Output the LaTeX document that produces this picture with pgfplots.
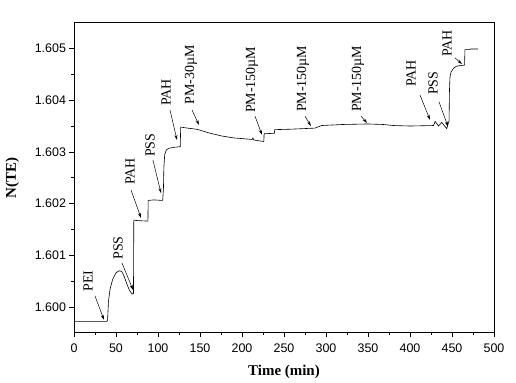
\documentclass[border=0pt]{standalone}
\usepackage{fontspec}
\setmainfont{Liberation Serif}
\newfontfamily\arial{Liberation Sans}
\usepackage{pgfplots}
\pgfplotsset{compat=1.18}
\usetikzlibrary{arrows.meta}
\begin{document}
\begin{tikzpicture}
\useasboundingbox (-74bp,-50.3bp) rectangle (442bp,332.7bp);
\begin{axis}[
  at={(0,0)}, anchor=south west,
  scale only axis, width=420bp, height=310bp,
  xmin=0, xmax=500, ymin=1.5995, ymax=1.6055,
  axis line style={line width=0.9pt},
  xtick={0,50,100,150,200,250,300,350,400,450,500}, minor x tick num=1,
  ytick={1.600,1.601,1.602,1.603,1.604,1.605}, minor y tick num=1,
  tick align=outside, tick pos=left,
  major tick length=4.5bp, minor tick length=2.5bp,
  tick style={black, line width=0.6pt},
  scaled y ticks=false,
  yticklabel style={/pgf/number format/.cd, fixed, precision=3, fixed zerofill},
  xticklabel style={yshift=-3bp},
  ticklabel style={font=\arial\fontsize{12.5}{14}\selectfont},
  /pgf/number format/assume math mode=true,
  xlabel={\bfseries Time (min)}, ylabel={\bfseries N(TE)},
  label style={font=\fontsize{15}{18}\selectfont},
  xlabel style={yshift=-6bp},
  ylabel style={yshift=9bp},
]
\addplot[black, line width=0.6pt] coordinates {
(0,1.59972) (39.5,1.59972) (40,1.59975) (41,1.60010) (43,1.60035) (46,1.60053)
(50,1.60066) (54,1.60070) (57,1.60068) (60,1.60058) (63,1.60044) (66,1.60032)
(68.7,1.60026) (70,1.60025) (70.8,1.60026) (71.2,1.60168) (75,1.60167) (88,1.60166)
(88.3,1.60206) (95,1.60207) (105.6,1.60206) (106.5,1.60230) (107,1.60270) (108,1.60295)
(110,1.60304) (113,1.60307) (120,1.60309) (126.5,1.60310) (127,1.60348) (135,1.60346)
(145,1.60344) (150,1.60342) (160,1.60337) (175,1.60331) (190,1.60327) (205,1.60325)
(212,1.60324) (213,1.60327) (214,1.60323) (222,1.60321) (226,1.60320) (226.3,1.60335)
(238.5,1.60336) (239,1.60343) (260,1.60344) (287,1.60346) (290,1.60348) (295,1.60351)
(320,1.60353) (350,1.60354) (368,1.60353) (380,1.60351) (400,1.60350) (428,1.60351)
(430,1.60359) (434,1.60350) (437.7,1.60357) (443.7,1.60345) (446.5,1.60360) (447,1.60420)
(447.6,1.60445) (449,1.60455) (452,1.60462) (455.6,1.60466) (465,1.60468) (465.4,1.60498)
(471,1.60498) (472,1.60499) (481,1.60499)
};
\tikzset{lab/.style={rotate=90, anchor=west, inner sep=0pt, font=\fontsize{14}{16}\selectfont},
  arr/.style={-{Stealth[length=5bp,width=3bp]}, line width=0.5pt}}
\node[lab] at (axis cs:16.7,1.60029) {PEI};
\draw[arr] (axis cs:25,1.60021) -- (axis cs:35.7,1.59975);
\node[lab] at (axis cs:52.4,1.60091) {PSS};
\draw[arr] (axis cs:57.1,1.60085) -- (axis cs:70.2,1.60033);
\node[lab] at (axis cs:66.7,1.60236) {PAH};
\draw[arr] (axis cs:67.9,1.60226) -- (axis cs:79.8,1.60172);
\node[lab] at (axis cs:90.5,1.60290) {PSS};
\draw[arr] (axis cs:94,1.60284) -- (axis cs:103.6,1.60220);
\node[lab] at (axis cs:109.5,1.60389) {PAH};
\draw[arr] (axis cs:114.3,1.60381) -- (axis cs:122.6,1.60323);
\node[lab] at (axis cs:139.3,1.60391) {PM-30µM};
\draw[arr] (axis cs:140.5,1.60381) -- (axis cs:148.8,1.60352);
\node[lab] at (axis cs:211.9,1.60375) {PM-150µM};
\draw[arr] (axis cs:215.5,1.60369) -- (axis cs:223.8,1.60333);
\node[lab] at (axis cs:272.6,1.60377) {PM-150µM};
\draw[arr] (axis cs:275,1.60369) -- (axis cs:282.1,1.60350);
\node[lab] at (axis cs:338,1.60377) {PM-150µM};
\draw[arr] (axis cs:341.7,1.60369) -- (axis cs:348.8,1.60356);
\node[lab] at (axis cs:401.2,1.60426) {PAH};
\draw[arr] (axis cs:411.9,1.60410) -- (axis cs:423.8,1.60362);
\node[lab] at (axis cs:427.4,1.60410) {PSS};
\draw[arr] (axis cs:434.5,1.60397) -- (axis cs:445.2,1.60349);
\node[lab] at (axis cs:444,1.60484) {PAH};
\draw[arr] (axis cs:453.6,1.60482) -- (axis cs:461.9,1.60470);
\end{axis}
\end{tikzpicture}
\end{document}
